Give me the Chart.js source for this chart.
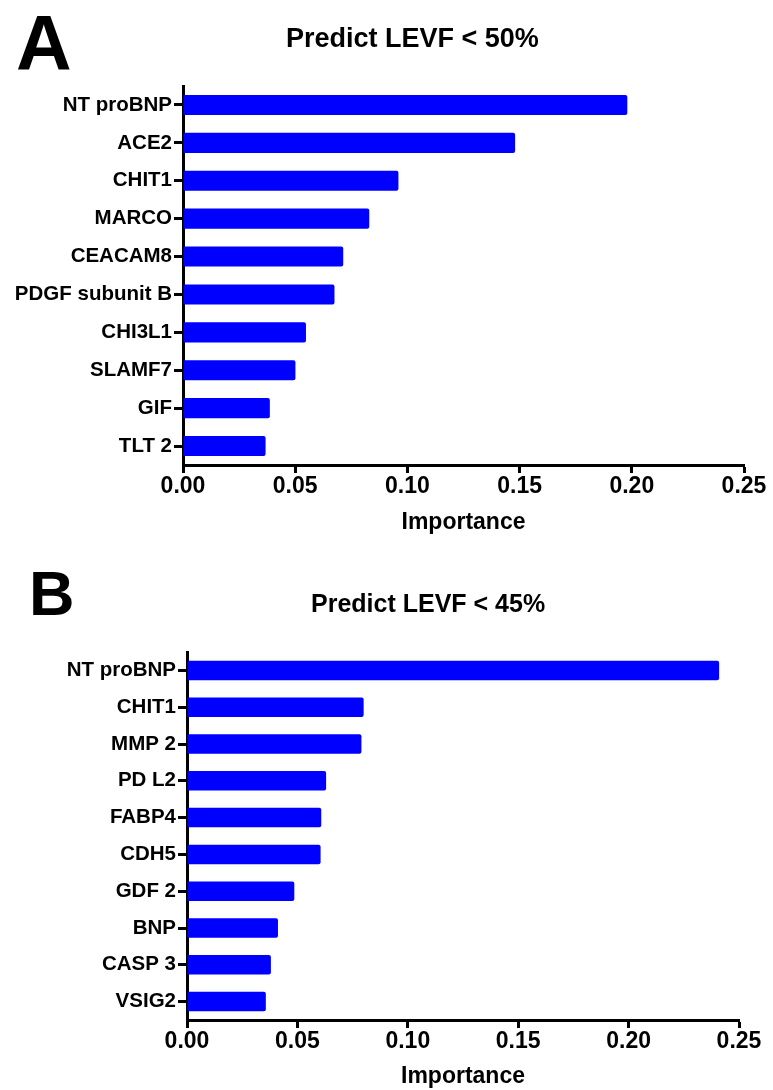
<!DOCTYPE html>
<html>
<head>
<meta charset="utf-8">
<script src="https://cdn.jsdelivr.net/npm/chart.js@4.4.1/dist/chart.umd.min.js"></script>
<style>
html, body { margin: 0; padding: 0; background: #fff; }
canvas { display: block; }
</style>
</head>
<body>
<canvas id="chartA" width="773" height="545"></canvas>
<canvas id="chartB" width="773" height="545"></canvas>
<script>
const labelsA = ['NT proBNP', 'ACE2', 'CHIT1', 'MARCO', 'CEACAM8', 'PDGF subunit B', 'CHI3L1', 'SLAMF7', 'GIF', 'TLT 2'];
const valuesA = [0.198, 0.148, 0.096, 0.083, 0.0714, 0.0675, 0.0548, 0.0501, 0.0387, 0.0368];

const labelsB = ['NT proBNP', 'CHIT1', 'MMP 2', 'PD L2', 'FABP4', 'CDH5', 'GDF 2', 'BNP', 'CASP 3', 'VSIG2'];
const valuesB = [0.241, 0.080, 0.079, 0.063, 0.0608, 0.0605, 0.0486, 0.0412, 0.038, 0.0357];

const xTicks = [0, 0.05, 0.10, 0.15, 0.20, 0.25];

const FONT = '"Liberation Sans", Arial, sans-serif';

// panel letter + title, drawn on top of the chart
const panelText = {
    id: 'panelText',
    afterDraw(chart, args, opts) {
        const ctx = chart.ctx;
        ctx.save();
        ctx.fillStyle = '#000';
        ctx.textAlign = 'left';
        ctx.textBaseline = 'alphabetic';
        ctx.font = `bold ${opts.letterSize}px ${FONT}`;
        ctx.fillText(opts.letter, opts.letterX, opts.letterY);
        ctx.font = `bold ${opts.titleSize}px ${FONT}`;
        ctx.fillText(opts.title, opts.titleX, opts.titleY);
        ctx.restore();
    }
};

function renderChart(canvas, labels, values, cfg) {
    new Chart(canvas, {
        type: 'bar',
        data: {
            labels,
            datasets: [{
                data: values,
                backgroundColor: '#0000ff',
                borderRadius: 2,
                borderSkipped: 'start',
                barPercentage: 0.53,
                categoryPercentage: 1
            }]
        },
        plugins: [panelText],
        options: {
            indexAxis: 'y',
            responsive: false,
            animation: false,
            devicePixelRatio: 1,
            layout: { padding: { top: cfg.top, right: cfg.padRight, left: 0, bottom: 0 } },
            plugins: {
                legend: { display: false },
                tooltip: { enabled: false },
                panelText: cfg.text
            },
            scales: {
                x: {
                    type: 'linear',
                    min: 0,
                    max: 0.25,
                    afterBuildTicks: s => { s.ticks = xTicks.map(v => ({ value: v })); },
                    afterFit: s => { s.height = cfg.axisH; },
                    ticks: {
                        color: '#000',
                        padding: 0,
                        maxRotation: 0,
                        font: { family: FONT, size: 23, weight: 'bold' },
                        callback: v => v.toFixed(2)
                    },
                    grid: { drawOnChartArea: false, tickLength: 8, tickWidth: 3, tickColor: '#000' },
                    border: { display: true, color: '#000', width: 3 },
                    title: {
                        display: true,
                        text: 'Importance',
                        color: '#000',
                        font: { family: FONT, size: 23, weight: 'bold' },
                        padding: { top: 0, bottom: cfg.titlePad }
                    }
                },
                y: {
                    afterFit: s => { s.width = cfg.left; },
                    ticks: {
                        color: '#000',
                        padding: 2,
                        font: { family: FONT, size: 20.5, weight: 'bold' }
                    },
                    grid: { offset: false, drawOnChartArea: false, tickLength: 9, tickWidth: 3, tickColor: '#000' },
                    border: { display: true, color: '#000', width: 3 }
                }
            }
        }
    });
}

renderChart(document.getElementById('chartA'), labelsA, valuesA, {
    left: 183, padRight: 29, top: 86, axisH: 80, titlePad: 9,
    text: { letter: 'A', letterSize: 77, letterX: 16, letterY: 70,
            title: 'Predict LEVF < 50%', titleSize: 27, titleX: 286, titleY: 47 }
});

renderChart(document.getElementById('chartB'), labelsB, valuesB, {
    left: 187, padRight: 34, top: 107, axisH: 70, titlePad: 0,
    text: { letter: 'B', letterSize: 63, letterX: 29, letterY: 70,
            title: 'Predict LEVF < 45%', titleSize: 25, titleX: 311, titleY: 67 }
});
</script>
</body>
</html>
